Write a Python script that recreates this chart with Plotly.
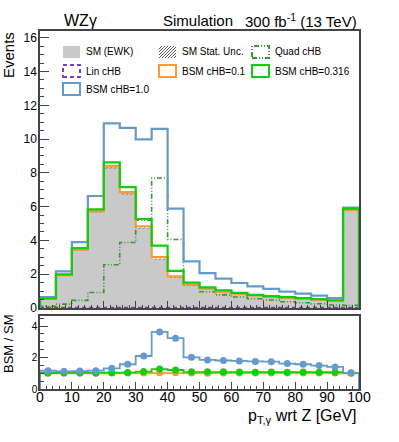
import plotly.graph_objects as go

# ---------------- data ----------------
bin_edges = [0, 5, 10, 15, 20, 25, 30, 35, 40, 45, 50, 55, 60, 65, 70, 75, 80, 85, 90, 95, 100]
sm_ewk   = [0.56, 1.93, 3.43, 5.70, 8.33, 6.78, 4.76, 2.92, 1.82, 1.37, 1.12, 0.96, 0.83, 0.73, 0.65, 0.60, 0.54, 0.49, 0.42, 5.78]
sm_unc   = [0.03, 0.05, 0.06, 0.07, 0.08, 0.07, 0.06, 0.05, 0.04, 0.04, 0.03, 0.03, 0.03, 0.03, 0.03, 0.03, 0.03, 0.03, 0.03, 0.06]
lin_chb  = [0.0, 0.0, 0.0, 0.0, 0.0, 0.0, 0.0, 0.0, 0.0, 0.0, 0.0, 0.0, 0.0, 0.0, 0.0, 0.0, 0.0, 0.0, 0.0, 0.0]
quad_chb = [0.10, 0.23, 0.45, 0.92, 2.56, 3.88, 5.20, 7.70, 4.06, 1.37, 0.96, 0.78, 0.65, 0.55, 0.47, 0.37, 0.31, 0.25, 0.18, 0.16]
bsm_01   = [0.56, 1.94, 3.46, 5.74, 8.42, 6.86, 4.84, 3.02, 1.87, 1.39, 1.13, 0.97, 0.84, 0.74, 0.66, 0.61, 0.55, 0.50, 0.43, 5.79]
bsm_0316 = [0.57, 1.99, 3.55, 5.84, 8.62, 7.16, 5.27, 3.69, 2.20, 1.50, 1.22, 1.05, 0.90, 0.78, 0.70, 0.64, 0.58, 0.52, 0.45, 5.88]
bsm_1    = [0.65, 2.17, 3.90, 6.63, 10.93, 10.67, 9.98, 10.60, 5.88, 2.76, 2.07, 1.74, 1.48, 1.28, 1.13, 0.97, 0.85, 0.73, 0.59, 5.94]

C_SM = "#c9c9c9"
C_LIN = "#7a3db8"
C_QUAD = "#339933"
C_01 = "#ff9933"
C_0316 = "#11cc11"
C_1 = "#6699cc"
FONT = "Liberation Sans, Arial, sans-serif"
DASH_LIN = "4px,3px"
DASH_QUAD = "5px,2px,1px,2px,1px,2px"

centers = [(bin_edges[i] + bin_edges[i + 1]) / 2 for i in range(len(sm_ewk))]


def step_xy(vals):
    xs, ys = [bin_edges[0]], [0]
    for i, v in enumerate(vals):
        xs += [bin_edges[i], bin_edges[i + 1]]
        ys += [v, v]
    xs.append(bin_edges[-1])
    ys.append(0)
    return xs, ys


fig = go.Figure()

# SM filled histogram
fig.add_trace(go.Bar(x=centers, y=sm_ewk, width=5, marker=dict(color=C_SM, line=dict(width=0)),
                     xaxis="x", yaxis="y", showlegend=False))
# SM stat. uncertainty hatch
fig.add_trace(go.Bar(x=centers, y=[2 * u for u in sm_unc], base=[s - u for s, u in zip(sm_ewk, sm_unc)],
                     width=5, marker=dict(color="rgba(0,0,0,0)", line=dict(width=0),
                                          pattern=dict(shape="/", fgcolor="#333333", bgcolor="rgba(0,0,0,0)",
                                                       size=3, solidity=0.3)),
                     xaxis="x", yaxis="y", showlegend=False))

for vals, col, dash, w in [(lin_chb, C_LIN, DASH_LIN, 2.5), (quad_chb, C_QUAD, DASH_QUAD, 1.6),
                           (bsm_1, C_1, "solid", 2.2), (bsm_01, C_01, "solid", 2.2),
                           (bsm_0316, C_0316, "solid", 2.2)]:
    xs, ys = step_xy(vals)
    fig.add_trace(go.Scatter(x=xs, y=ys, mode="lines", line=dict(color=col, width=w, dash=dash),
                             xaxis="x", yaxis="y", showlegend=False, hoverinfo="skip"))

# Ratio panel
for vals, col in [(bsm_01, C_01), (bsm_0316, C_0316), (bsm_1, C_1)]:
    r = [b / s for b, s in zip(vals, sm_ewk)]
    xs, ys = step_xy(r)
    fig.add_trace(go.Scatter(x=xs, y=ys, mode="lines", line=dict(color=col, width=1.8),
                             xaxis="x2", yaxis="y2", showlegend=False, hoverinfo="skip"))
    fig.add_trace(go.Scatter(x=centers, y=r, mode="markers", marker=dict(color=col, size=7),
                             xaxis="x2", yaxis="y2", showlegend=False))

# ---------------- layout helpers (pixel -> paper) ----------------
L, R, T, B = 40, 40, 31, 53
W, H = 399, 442
PW, PH = W - L - R, H - T - B


def px(xp):
    return (xp - L) / PW


def py(yp):
    return (H - B - yp) / PH


frame = dict(showline=True, linecolor="#444444", linewidth=1.5, mirror=True, showgrid=False, zeroline=False)

fig.update_layout(
    width=W, height=H, margin=dict(l=L, r=R, t=T, b=B, autoexpand=False),
    paper_bgcolor="white", plot_bgcolor="white", bargap=0, barmode="overlay",
    font=dict(family=FONT, color="black"),
    xaxis=dict(domain=[0, 1], range=[0, 100], anchor="y", showticklabels=False,
               ticks="inside", ticklen=7, tickcolor="#444", dtick=10, tick0=0,
               minor=dict(ticks="inside", ticklen=3.5, dtick=2, tickcolor="#444"), **frame),
    yaxis=dict(domain=[py(308), 1], range=[0, 16.4], anchor="x",
               ticks="inside", ticklen=9, tickcolor="#444", dtick=2, tick0=0,
               minor=dict(ticks="inside", ticklen=4.5, dtick=0.5, tickcolor="#444"),
               tickfont=dict(size=12), ticklabelstandoff=-1, **frame),
    xaxis2=dict(domain=[0, 1], range=[0, 100], anchor="y2",
                ticks="inside", ticklen=7, tickcolor="#444", dtick=10, tick0=0,
                minor=dict(ticks="inside", ticklen=3.5, dtick=2, tickcolor="#444"),
                tickfont=dict(size=14), ticklabelstandoff=-6, **frame),
    yaxis2=dict(domain=[0, py(315.7)], range=[0, 4.66], anchor="x2",
                ticks="inside", ticklen=8, tickcolor="#444", dtick=2, tick0=0,
                minor=dict(ticks="inside", ticklen=4, dtick=0.5, tickcolor="#444"),
                tickfont=dict(size=10), ticklabelstandoff=-1, **frame),
)

ann = []
# header
ann.append(dict(text="WZγ", x=px(62), y=py(21), xanchor="left", yanchor="middle", font=dict(size=16)))
ann.append(dict(text="Simulation", x=px(161), y=py(21), xanchor="left", yanchor="middle", font=dict(size=15)))
ann.append(dict(text="300 fb<sup>-1</sup> (13 TeV)", x=px(359), y=py(21), xanchor="right", yanchor="middle",
                font=dict(size=15)))
# axis titles
ann.append(dict(text="Events", x=px(9), y=py(30), xanchor="center", yanchor="top", textangle=-90,
                font=dict(size=15)))
ann.append(dict(text="BSM / SM", x=px(8), y=py(344), xanchor="center", yanchor="middle", textangle=-90,
                font=dict(size=13)))
ann.append(dict(text="p<sub>T,γ</sub> wrt Z [GeV]", x=px(359), y=py(416), xanchor="right", yanchor="middle",
                font=dict(size=16)))

# legend
shapes = []
rows = [52, 71, 89]
cols = [(63, 84), (159, 180), (252, 273)]
entries = [
    (0, 0, "SM (EWK)", "fill", C_SM, None),
    (0, 1, "SM Stat. Unc.", "hatch", "#333333", None),
    (0, 2, "Quad cHB", "line", C_QUAD, DASH_QUAD),
    (1, 0, "Lin cHB", "line", C_LIN, DASH_LIN),
    (1, 1, "BSM cHB=0.1", "line", C_01, "solid"),
    (1, 2, "BSM cHB=0.316", "line", C_0316, "solid"),
    (2, 0, "BSM cHB=1.0", "line", C_1, "solid"),
]
for r, c, label, kind, col, dash in entries:
    yc = rows[r]
    x0, xt = cols[c]
    x1 = x0 + 17
    y0, y1 = yc - 6, yc + 6
    if kind == "fill":
        shapes.append(dict(type="rect", xref="paper", yref="paper", x0=px(x0), x1=px(x1), y0=py(y1), y1=py(y0),
                           fillcolor=col, line=dict(width=0)))
    elif kind == "hatch":
        for k in range(-12, 17, 3):
            xa, xb = x0 + k, x0 + k + 12
            ya, yb = y1, y0
            if xa < x0:
                ya = y1 - (x0 - xa); xa = x0
            if xb > x1:
                yb = y0 + (xb - x1); xb = x1
            if xa >= xb:
                continue
            shapes.append(dict(type="line", xref="paper", yref="paper", x0=px(xa), x1=px(xb),
                               y0=py(ya), y1=py(yb), line=dict(color=col, width=0.8)))
    else:
        shapes.append(dict(type="rect", xref="paper", yref="paper", x0=px(x0), x1=px(x1), y0=py(y1), y1=py(y0),
                           fillcolor="rgba(0,0,0,0)", line=dict(color=col, width=2, dash=dash)))
    ann.append(dict(text=label, x=px(xt), y=py(yc), xanchor="left", yanchor="middle", font=dict(size=10)))

for a in ann:
    a.update(xref="paper", yref="paper", showarrow=False)
fig.update_layout(annotations=ann, shapes=shapes)

fig.write_html("out.html", config={"displayModeBar": False},
               post_script="document.body.style.margin='0';document.body.style.padding='0';")
